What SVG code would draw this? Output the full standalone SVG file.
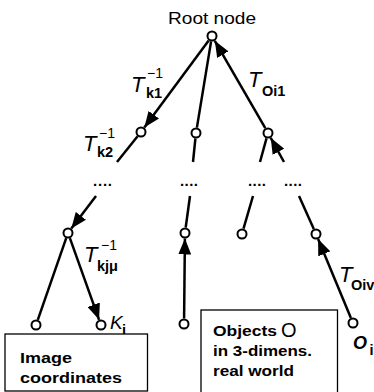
<svg xmlns="http://www.w3.org/2000/svg" width="374" height="392" viewBox="0 0 374 392">
<defs>
<style>
.e{stroke:#000;stroke-width:2.5;fill:none}
.a{marker-end:url(#ah)}
.n{fill:#fff;stroke:#000;stroke-width:2}
.box{fill:#fff;stroke:#000;stroke-width:1.3}
text{font-family:"Liberation Sans",Arial,sans-serif;fill:#000}
.T{font-style:italic;font-size:22px}
.sup{font-size:14px}
.sub{font-weight:bold;font-size:14.5px}
.dots{font-weight:bold;font-size:15px}
.bt{font-weight:bold;font-size:15px}
</style>
<marker id="ah" markerUnits="userSpaceOnUse" markerWidth="17" markerHeight="13" refX="16" refY="6.5" orient="auto">
<path d="M0,0 L16,6.5 L0,13 z" fill="#000"/>
</marker>
</defs>
<g id="connectors">
<line class="e a" x1="208.7" y1="40.4" x2="144.3" y2="127.6"/>
<line class="e" x1="211.1" y1="41.4" x2="196.9" y2="127.6"/>
<line class="e a" x1="265.3" y1="128.2" x2="214.8" y2="40.8"/>
<line class="e" x1="137.6" y1="136.3" x2="117" y2="162"/>
<line class="e" x1="195.4" y1="138.5" x2="193" y2="162"/>
<line class="e" x1="266.5" y1="138.3" x2="260" y2="162"/>
<line class="e a" x1="284" y1="162" x2="270.7" y2="137.8"/>
<line class="e a" x1="96" y1="196" x2="71.3" y2="228.6"/>
<line class="e" x1="190" y1="196" x2="185.7" y2="227.5"/>
<line class="e" x1="253" y1="196" x2="243.5" y2="228.7"/>
<line class="e" x1="299" y1="196" x2="313.8" y2="229"/>
<line class="e" x1="66.2" y1="238.2" x2="37.8" y2="319.8"/>
<line class="e a" x1="69.9" y1="238.2" x2="99.1" y2="319.8"/>
<line class="e a" x1="184.1" y1="318.5" x2="184.9" y2="238.5"/>
<line class="e a" x1="350.9" y1="317.9" x2="318.1" y2="239.1"/>
</g>
<g id="root"><circle class="n" cx="212" cy="36" r="4.5"/><text x="212" y="24" font-size="17" text-anchor="middle" textLength="88" lengthAdjust="spacingAndGlyphs">Root node</text></g>
<g id="nodeA"><circle class="n" cx="141" cy="132" r="4.5"/></g>
<g id="nodeB"><circle class="n" cx="196" cy="133" r="4.5"/></g>
<g id="nodeC"><circle class="n" cx="268" cy="133" r="4.5"/></g>
<g id="nodeD"><circle class="n" cx="68" cy="233" r="4.5"/></g>
<g id="nodeE"><circle class="n" cx="185" cy="233" r="4.5"/></g>
<g id="nodeF"><circle class="n" cx="242" cy="234" r="4.5"/></g>
<g id="nodeG"><circle class="n" cx="316" cy="234" r="4.5"/></g>
<g id="nodeH"><circle class="n" cx="36" cy="325" r="4.5"/></g>
<g id="nodeK"><circle class="n" cx="101" cy="325" r="4.5"/></g>
<g id="nodeL"><circle class="n" cx="184" cy="324" r="4.5"/></g>
<g id="nodeM"><circle class="n" cx="353" cy="323" r="4.5"/></g>
<g id="dots">
<text class="dots" x="93" y="186" textLength="19" lengthAdjust="spacing">....</text>
<text class="dots" x="180" y="186" textLength="18" lengthAdjust="spacing">....</text>
<text class="dots" x="248" y="186" textLength="18" lengthAdjust="spacing">....</text>
<text class="dots" x="284" y="186" textLength="18" lengthAdjust="spacing">....</text>
</g>
<g id="labels">
<text class="T" x="131" y="92">T</text><text class="sup" x="147" y="78">−1</text><text class="sub" x="146" y="98">k1</text>
<text class="T" x="83" y="151">T</text><text class="sup" x="99" y="138">−1</text><text class="sub" x="97" y="157">k2</text>
<text class="T" x="248" y="87">T</text><text class="sub" x="262" y="96">Oi1</text>
<text class="T" x="84" y="262">T</text><text class="sup" x="101" y="250">−1</text><text class="sub" x="97" y="271">kjμ</text>
<text x="110" y="329" font-size="19" font-style="italic">K</text><text class="sub" x="122" y="335" font-size="13">j</text>
<text class="T" x="339" y="282">T</text><text class="sub" x="351" y="290">Oiv</text>
<text x="353" y="349" font-size="18" font-style="italic" font-weight="bold">O</text><text class="sub" x="369.5" y="355" font-size="11">i</text>
</g>
<g id="imagebox"><rect class="box" x="5" y="334" width="142.5" height="57"/>
<text class="bt" x="20" y="363" textLength="52" lengthAdjust="spacingAndGlyphs">Image</text>
<text class="bt" x="20" y="383" textLength="102" lengthAdjust="spacingAndGlyphs">coordinates</text></g>
<g id="objectsbox"><rect class="box" x="201" y="310" width="136.5" height="90"/>
<text class="bt" x="213" y="336" textLength="64" lengthAdjust="spacingAndGlyphs">Objects</text><text x="281" y="337" font-size="20">O</text>
<text class="bt" x="213" y="356" textLength="99" lengthAdjust="spacingAndGlyphs">in 3-dimens.</text>
<text class="bt" x="213" y="376" textLength="81" lengthAdjust="spacingAndGlyphs">real world</text></g>
</svg>
